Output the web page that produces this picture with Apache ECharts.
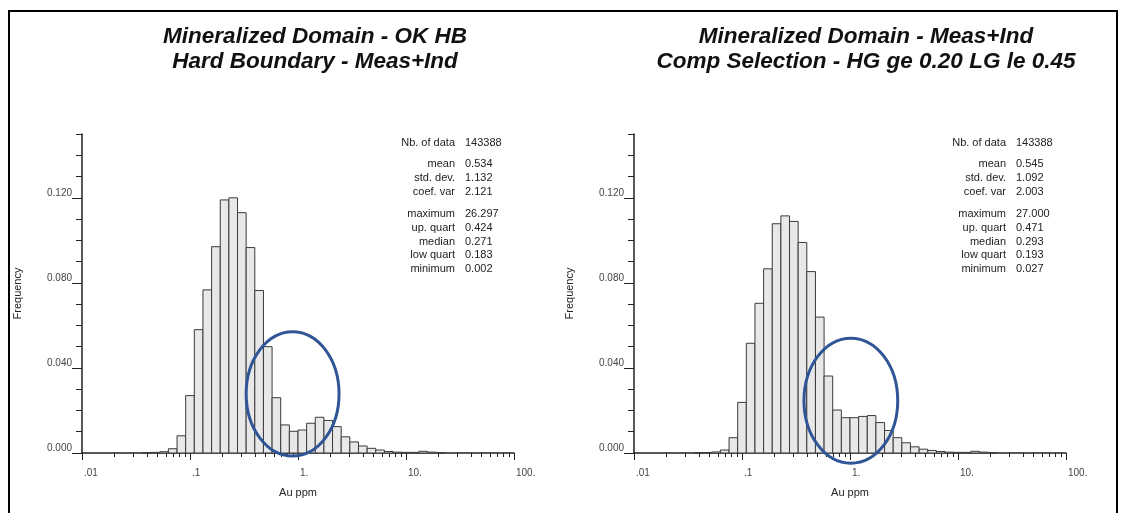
<!DOCTYPE html>
<html>
<head>
<meta charset="utf-8">
<script src="https://cdn.jsdelivr.net/npm/echarts@6.0.0/dist/echarts.min.js"></script>
<style>
  html, body { margin: 0; padding: 0; background: #fff; }
  #chart { width: 1123px; height: 513px; }
</style>
</head>
<body>
<div id="chart"></div>
<script>
// log10 bins, 0.08 wide, first bin starts at 10^-1.44
var binStartLog = -1.44
var binWidthLog = 0.08

// frequencies per bin
var freqHB = [0.0001, 0.0003, 0.0006, 0.0020, 0.0081, 0.0270, 0.0580, 0.0767, 0.0970,
  0.1190, 0.1200, 0.1130, 0.0966, 0.0764, 0.0500, 0.0260, 0.0132, 0.0102, 0.0108,
  0.0140, 0.0168, 0.0153, 0.0124, 0.0076, 0.0052, 0.0033, 0.0022, 0.0014, 0.0007,
  0.0004, 0.0003, 0.0003, 0.0008, 0.0004, 0.0001]
var freqCS = [0.0001, 0.0002, 0.0005, 0.0014, 0.0072, 0.0238, 0.0516, 0.0704, 0.0866,
  0.1078, 0.1115, 0.1089, 0.0990, 0.0853, 0.0639, 0.0362, 0.0202, 0.0166, 0.0166,
  0.0172, 0.0176, 0.0143, 0.0106, 0.0072, 0.0048, 0.0029, 0.0018, 0.0012, 0.0007,
  0.0004, 0.0003, 0.0003, 0.0008, 0.0004, 0.0001]

var statNames = ['Nb. of data', 'mean', 'std. dev.', 'coef. var', 'maximum', 'up. quart', 'median', 'low quart', 'minimum']
var statsHB = ['143388', '0.534', '1.132', '2.121', '26.297', '0.424', '0.271', '0.183', '0.002']
var statsCS = ['143388', '0.545', '1.092', '2.003', '27.000', '0.471', '0.293', '0.193', '0.027']

var titleHB = ['Mineralized Domain - OK HB', 'Hard Boundary - Meas+Ind']
var titleCS = ['Mineralized Domain - Meas+Ind', 'Comp Selection - HG ge 0.20 LG le 0.45']

// x axis is drawn in log10 units
var xTickValues = [-2, -1, 0, 1, 2]
var xTickLabels = ['.01', '.1', '1.', '10.', '100.']
var xMinorMults = [2, 3, 4, 5, 6, 7, 8, 9]
var yTickValues = [0, 0.04, 0.08, 0.12]
var yMinorValues = [0, 0.01, 0.02, 0.03, 0.04, 0.05, 0.06, 0.07, 0.08, 0.09, 0.10, 0.11, 0.12, 0.13, 0.14, 0.15]

// circled region [center log x, radius in decades, center y, radius y]
var circleHB = [-0.05, 0.43, 0.0278, 0.0292]
var circleCS = [0.008, 0.434, 0.0246, 0.0294]

var xMinorValues = []
for (var d = -2; d < 2; d++) {
  xMinorMults.forEach(function (m) { xMinorValues.push(d + Math.log10(m)) })
}

function binData(freq) {
  return freq.map(function (f, i) {
    var lo = binStartLog + i * binWidthLog
    return [lo, lo + binWidthLog, f]
  })
}

function renderBar(params, api) {
  var p0 = api.coord([api.value(0), api.value(2)])
  var p1 = api.coord([api.value(1), 0])
  return {
    type: 'rect',
    shape: { x: p0[0], y: p0[1], width: p1[0] - p0[0], height: p1[1] - p0[1] },
    style: { fill: '#e8e8e8', stroke: '#3a3a3a', lineWidth: 1 }
  }
}

var font = 'Liberation Sans, Arial, sans-serif'
var grids = [
  { left: 82, top: 134, width: 432, height: 319 },
  { left: 634, top: 134, width: 432, height: 319 }
]

var xAxes = [], yAxes = []
grids.forEach(function (g, gi) {
  xAxes.push({
    type: 'value', gridIndex: gi, position: 'bottom', min: -2, max: 2,
    name: 'Au ppm', nameLocation: 'middle', nameGap: 34,
    nameTextStyle: { fontFamily: font, fontSize: 11, color: '#222' },
    axisLine: { onZero: false, lineStyle: { color: '#222', width: 1.5 } },
    axisTick: { customValues: xTickValues, length: 7, lineStyle: { color: '#222' } },
    axisLabel: {
      customValues: xTickValues, margin: 15, align: 'left', padding: [0, 0, 0, 2],
      fontFamily: font, fontSize: 10, color: '#444',
      formatter: function (v) { return xTickLabels[xTickValues.indexOf(Math.round(v))] }
    },
    splitLine: { show: false }
  })
  xAxes.push({
    type: 'value', gridIndex: gi, position: 'bottom', offset: 0, min: -2, max: 2,
    axisLine: { show: false, onZero: false },
    axisTick: { customValues: xMinorValues, length: 4, lineStyle: { color: '#222' } },
    axisLabel: { show: false },
    splitLine: { show: false }
  })
  yAxes.push({
    type: 'value', gridIndex: gi, position: 'left', min: 0, max: 0.15,
    name: 'Frequency', nameLocation: 'middle', nameGap: 59,
    nameTextStyle: { fontFamily: font, fontSize: 11, color: '#222' },
    axisLine: { show: true, onZero: false, lineStyle: { color: '#222', width: 1.5 } },
    axisTick: { show: true, customValues: yTickValues, length: 10, lineStyle: { color: '#222' } },
    axisLabel: {
      customValues: yTickValues, margin: 10, verticalAlign: 'bottom',
      fontFamily: font, fontSize: 10, color: '#444',
      formatter: function (v) { return v.toFixed(3) }
    },
    splitLine: { show: false }
  })
  yAxes.push({
    type: 'value', gridIndex: gi, position: 'left', offset: 0, min: 0, max: 0.15,
    axisLine: { show: false, onZero: false },
    axisTick: { show: true, customValues: yMinorValues, length: 6, lineStyle: { color: '#222' } },
    axisLabel: { show: false },
    splitLine: { show: false }
  })
})

function titleText(lines, cx) {
  return lines.map(function (t, i) {
    return {
      type: 'text', x: cx, y: 37 + i * 25,
      style: {
        text: t, fill: '#111', align: 'center', verticalAlign: 'middle',
        font: 'italic bold 22.5px ' + font
      }
    }
  })
}

function statText(values, xr) {
  var rowY = [143, 164, 178, 192, 214, 228, 242, 255, 269]
  var out = []
  statNames.forEach(function (n, i) {
    out.push({ type: 'text', x: xr, y: rowY[i],
      style: { text: n, fill: '#222', align: 'right', verticalAlign: 'middle', font: '11px ' + font } })
    out.push({ type: 'text', x: xr + 10, y: rowY[i],
      style: { text: values[i], fill: '#222', align: 'left', verticalAlign: 'middle', font: '11px ' + font } })
  })
  return out
}

var myChart = echarts.init(document.getElementById('chart'), null, { renderer: 'canvas' })
var option = {
  animation: false,
  backgroundColor: '#fff',
  grid: grids,
  xAxis: xAxes,
  yAxis: yAxes,
  series: [{
    type: 'custom', xAxisIndex: 0, yAxisIndex: 0,
    renderItem: renderBar, encode: { x: [0, 1], y: 2 },
    data: binData(freqHB)
  }, {
    type: 'custom', xAxisIndex: 2, yAxisIndex: 2,
    renderItem: renderBar, encode: { x: [0, 1], y: 2 },
    data: binData(freqCS)
  }]
}
myChart.setOption(option)

// outline, titles, stats and the blue circles drawn on top
function ellipseFor(c, gi) {
  var ctr = myChart.convertToPixel({ gridIndex: gi }, [c[0], c[2]])
  var edge = myChart.convertToPixel({ gridIndex: gi }, [c[0] + c[1], c[2] + c[3]])
  return {
    type: 'ellipse', z: 100,
    shape: { cx: ctr[0], cy: ctr[1], rx: edge[0] - ctr[0], ry: ctr[1] - edge[1] },
    style: { fill: null, stroke: '#2f5597', lineWidth: 3 }
  }
}

var graphics = [{
  type: 'rect', shape: { x: 9, y: 11, width: 1108, height: 520 },
  style: { fill: null, stroke: '#000', lineWidth: 2 }
}]
graphics = graphics.concat(titleText(titleHB, 315), titleText(titleCS, 866),
  statText(statsHB, 455), statText(statsCS, 1006),
  [ellipseFor(circleHB, 0), ellipseFor(circleCS, 1)])

myChart.setOption({ graphic: graphics })
</script>
</body>
</html>
